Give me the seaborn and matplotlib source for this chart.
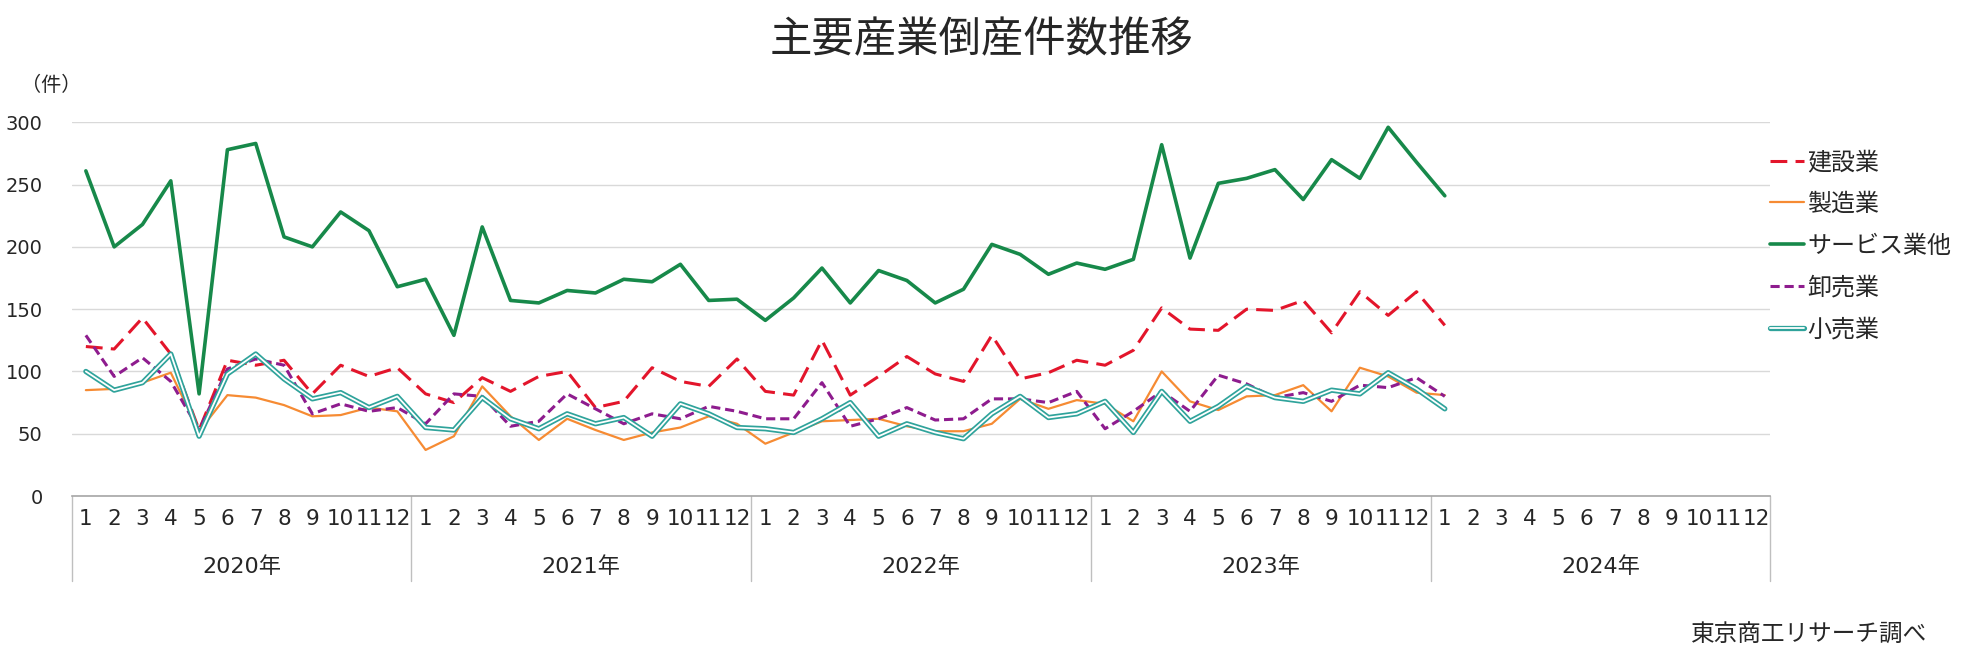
import pandas as pd
import matplotlib
matplotlib.use("Agg")
import matplotlib.pyplot as plt
import matplotlib.patheffects as pe
import matplotlib.transforms as mtransforms
import seaborn as sns

# 月次データ（2020年1月～2024年1月）
kensetsu = [120, 118, 143, 114, 53, 109, 105, 109, 82, 105, 96, 103,
            82, 75, 95, 84, 96, 100, 71, 76, 103, 92, 88, 110,
            84, 81, 125, 81, 96, 112, 98, 92, 129, 94, 99, 109,
            105, 117, 151, 134, 133, 150, 149, 157, 131, 164, 145, 164,
            137]
seizou = [85, 86, 91, 99, 52, 81, 79, 73, 64, 65, 71, 68,
          37, 48, 88, 64, 45, 62, 53, 45, 51, 55, 64, 58,
          42, 51, 60, 61, 62, 56, 52, 52, 58, 78, 70, 77,
          74, 60, 100, 76, 69, 80, 81, 89, 68, 103, 96, 83,
          81]
service = [261, 200, 218, 253, 82, 278, 283, 208, 200, 228, 213, 168,
           174, 129, 216, 157, 155, 165, 163, 174, 172, 186, 157, 158,
           141, 159, 183, 155, 181, 173, 155, 166, 202, 194, 178, 187,
           182, 190, 282, 191, 251, 255, 262, 238, 270, 255, 296, 268,
           241]
oroshi = [129, 96, 111, 92, 53, 102, 110, 105, 66, 74, 68, 71,
          58, 82, 80, 56, 60, 82, 70, 58, 66, 62, 72, 68,
          62, 62, 91, 56, 62, 71, 61, 62, 78, 78, 75, 84,
          54, 68, 84, 68, 97, 90, 79, 83, 76, 89, 87, 95,
          80]
kouri = [100, 85, 91, 114, 48, 98, 114, 94, 78, 83, 71, 80,
         55, 53, 79, 62, 54, 66, 58, 63, 48, 74, 66, 55,
         54, 51, 62, 75, 48, 58, 51, 46, 66, 80, 63, 66,
         76, 51, 84, 60, 72, 88, 79, 76, 85, 82, 99, 86,
         70]

years = ['2020年', '2021年', '2022年', '2023年', '2024年']
months = [str(m) for m in range(1, 13)]
series_names = ['建設業', '製造業', 'サービス業他', '卸売業', '小売業']

rows = []
for name, vals in zip(series_names, [kensetsu, seizou, service, oroshi, kouri]):
    for i, v in enumerate(vals):
        rows.append({'業種': name, 'idx': i, '件数': v})
df = pd.DataFrame(rows)

sns.set_style("white")
plt.rcParams['font.family'] = ['DejaVu Sans', 'Noto Sans CJK JP']

fig = plt.figure(figsize=(19.66, 6.55), dpi=100)
ax = fig.add_axes([0.03647, 0.2427, 0.9005 - 0.03647, 0.8133 - 0.2427])

styles = {
    '建設業': dict(color='#e3152b', lw=2.2, linestyle=(0, (5.5, 2.7))),
    '製造業': dict(color='#f68b33', lw=1.6),
    'サービス業他': dict(color='#17894a', lw=2.6),
    '卸売業': dict(color='#8e1c8e', lw=2.2, linestyle=(0, (3, 1.6))),
    '小売業': dict(color='#2fa39b', lw=3.8,
                 path_effects=[pe.Normal(),
                               pe.Stroke(linewidth=1.3, foreground='white')]),
}

for name in series_names:
    sns.lineplot(data=df[df['業種'] == name], x='idx', y='件数',
                 label=name, errorbar=None, ax=ax, **styles[name])

ax.set_xlim(-0.5, 59.5)
ax.set_ylim(0, 300)
ax.set_yticks(range(0, 301, 50))
ax.yaxis.grid(True, color='#d9d9d9', lw=1)
ax.set_axisbelow(True)
ax.set_xlabel('')
ax.set_ylabel('')

ax.set_xticks(range(60))
ax.set_xticklabels(months * 5)
ax.tick_params(axis='x', length=0, pad=9, labelsize=15.5)
ax.tick_params(axis='y', length=0, pad=21, labelsize=14)

for s in ['left', 'right', 'top']:
    ax.spines[s].set_visible(False)
ax.spines['bottom'].set_color('#a6a6a6')
ax.spines['bottom'].set_linewidth(1.2)

# 年ラベルと区切り線
trans = mtransforms.blended_transform_factory(ax.transData, ax.transAxes)
for k, y in enumerate(years):
    ax.text(12 * k + 5.5, -0.19, y, transform=trans, ha='center', va='center',
            fontsize=16)
for xb in [-0.5, 11.5, 23.5, 35.5, 47.5, 59.5]:
    ax.plot([xb, xb], [0, -0.227], transform=trans, color='#bfbfbf', lw=1,
            clip_on=False)

leg = ax.legend(loc='upper left', bbox_to_anchor=(1770 / 1966, 1 - 150 / 655),
                bbox_transform=fig.transFigure, frameon=False, fontsize=17.3,
                handlelength=1.4, handletextpad=0.15, labelspacing=0.74,
                borderaxespad=0, borderpad=0)

fig.text(982 / 1966, 1 - 40 / 655, '主要産業倒産件数推移', ha='center', va='center',
         fontsize=30.5)
fig.text(51 / 1966, 1 - 85 / 655, '（件）', ha='center', va='center', fontsize=14.5)
fig.text(1927 / 1966, 1 - 635 / 655, '東京商工リサーチ調べ', ha='right',
         va='center', fontsize=17)

fig.savefig('out.png', dpi=100)
